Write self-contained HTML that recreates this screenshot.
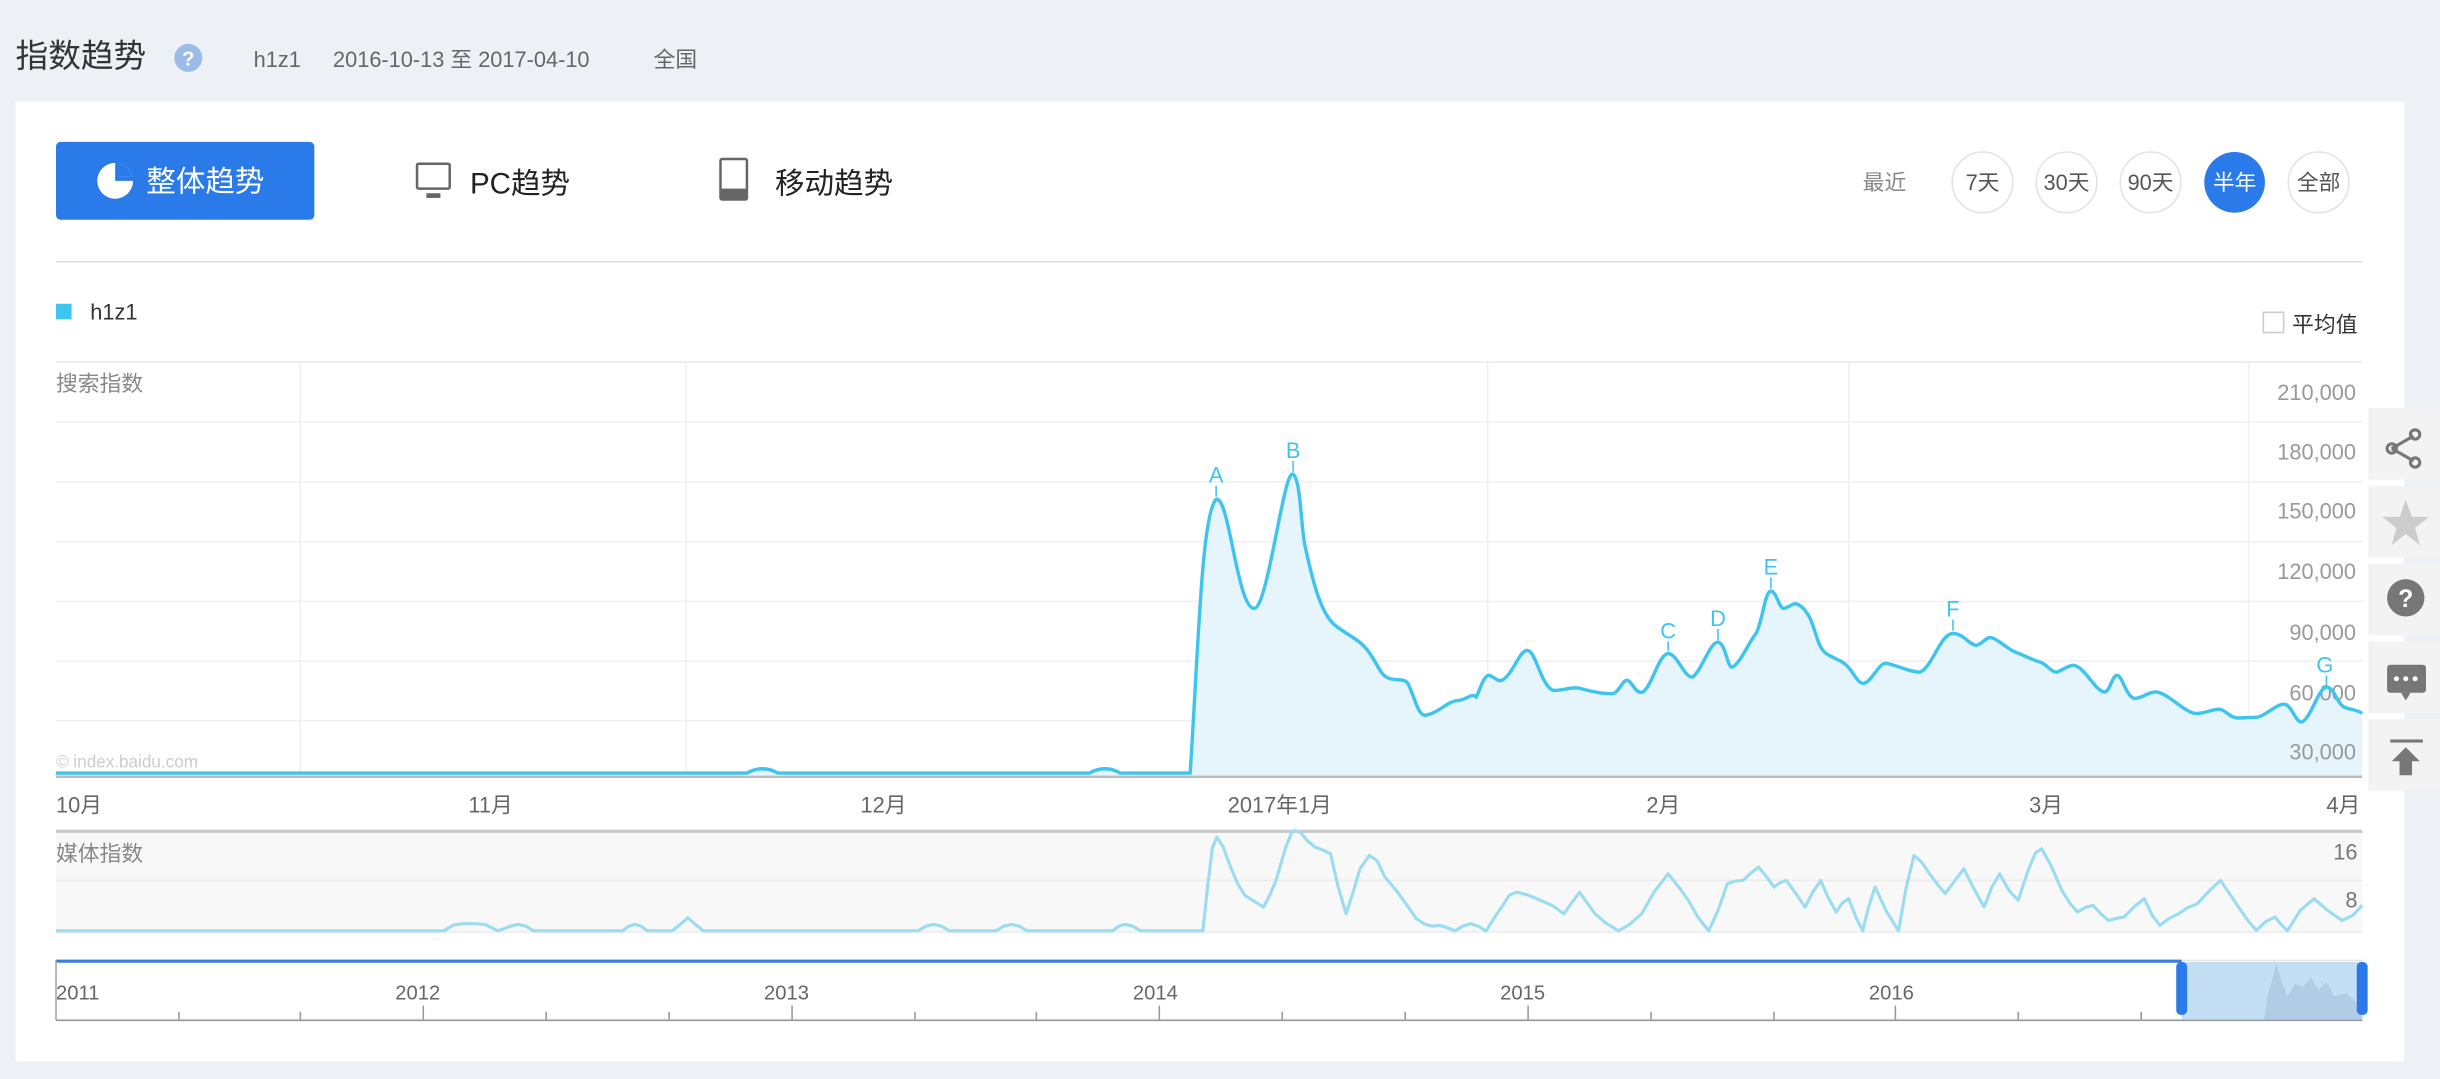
<!DOCTYPE html>
<html><head><meta charset="utf-8"><style>html,body{margin:0;padding:0;background:#edf1f5;}svg{display:block}text{font-family:"Liberation Sans","Noto Sans CJK SC",sans-serif;}</style></head>
<body>
<svg width="2440" height="1079" viewBox="0 0 1568 693" xmlns="http://www.w3.org/2000/svg">
<defs>
<path id="d" d="M36 496.6 L480 496.6 Q490 491 500 496.6 L700 496.6 Q710 491 720 496.6 L764.8 496.6 C770 420 772 330 781.5 320.7 C790 318 795 391 806 390.8 C815 390 825 300 831 304.6 C836 308 836 340 838.8 351.3 C845 380 850 395 858 401.7 C866 408 872 410 877 415.6 C884 423 886 432 890.8 434.9 C896 438 902 435 904.8 439 C910 450 911 459 915.8 459.5 C925 458 930 450 937.6 449.9 C943 449 946 445 948.6 447.7 C951 444 953 434 956.9 433.8 C961 435 962 438 965 437 C972 434 976 418 981.5 417.7 C987 418 990 440 998 443.4 C1004 444 1008 441 1014.8 442 C1022 444 1030 446 1036.8 445.5 C1041 444 1043 436 1045.9 437 C1049 438 1051 446 1055.8 444.5 C1062 440 1066 420 1072 419.8 C1078 420 1082 435 1087.5 434.9 C1093 432 1099 412 1104 412.4 C1109 413 1110 429 1113 428.5 C1118 427 1124 412 1128.5 406.9 C1133 398 1134 380 1138 379.6 C1142 380 1143 391 1146.5 390.8 C1150 390 1152 387 1154.9 388 C1159 390 1160 392 1162.8 396.3 C1167 405 1168 416 1173.6 419.8 C1180 424 1184 424 1187.6 428.4 C1191 432 1194 439 1197.4 439 C1203 438 1207 426 1212 426 C1218 427 1228 432 1234 431.7 C1242 428 1247 407 1255 406.9 C1262 407 1265 414 1270 414.5 C1274 414 1276 409 1279.5 409.5 C1285 411 1290 417 1295 418.8 C1301 421 1306 424 1311 425.2 C1316 427 1318 432 1322 431.7 C1326 430 1330 427 1333 427.4 C1340 429 1346 443 1352 444.5 C1356 445 1357 434 1360.5 433.8 C1364 434 1366 447 1371.5 448.6 C1376 449 1381 444 1386 444.5 C1394 446 1402 456 1410 458.2 C1416 459 1422 455 1426.7 455.7 C1430 456 1433 461 1437.7 461.2 C1442 461 1446 461 1451 460.6 C1457 459 1463 452 1468 452.4 C1473 453 1475 464 1479 463.8 C1485 462 1490 441 1495.5 441.3 C1500 442 1502 452 1506.4 454.2 C1511 456 1515 456 1518 458.2"/>
</defs>
<rect x="0" y="0" width="1568" height="693" fill="#edf1f5"/>
<text x="10" y="43" font-size="21" fill="#333">指数趋势</text>
<circle cx="121" cy="37" r="9" fill="#9dbbe8"/>
<text x="121" y="42" font-size="13" fill="#fff" text-anchor="middle" font-weight="bold">?</text>
<text x="163" y="43" font-size="14" fill="#666">h1z1</text>
<text x="214" y="43" font-size="14" fill="#666">2016-10-13 至 2017-04-10</text>
<text x="420" y="43" font-size="14" fill="#666">全国</text>
<rect x="10" y="65" width="1535" height="617" fill="#fff"/>
<rect x="36" y="91" width="166" height="50" rx="3" fill="#2a7ae9"/>
<circle cx="74" cy="116" r="11.5" fill="#fff"/>
<path d="M76.5 113.5 L76.5 104.8 A11.5 11.5 0 0 1 85.2 113.5 Z" fill="#2a7ae9"/>
<path d="M74 116 L74 104 L76.5 104 L76.5 113.5 L86 113.5 L86 116 Z" fill="#2a7ae9"/>
<text x="94" y="123" font-size="19" fill="#fff">整体趋势</text>
<rect x="268" y="105" width="21" height="16" rx="1" fill="none" stroke="#666" stroke-width="1.6"/>
<rect x="274" y="124" width="9" height="3" fill="#666"/>
<text x="302" y="124" font-size="19" fill="#222">PC趋势</text>
<rect x="463" y="102" width="17" height="26" rx="1" fill="none" stroke="#666" stroke-width="1.6"/>
<rect x="463" y="121" width="17" height="7" fill="#666"/>
<text x="498" y="124" font-size="19" fill="#222">移动趋势</text>
<text x="1197" y="122" font-size="14" fill="#888">最近</text>
<g font-size="14" text-anchor="middle">
<circle cx="1274" cy="117" r="19.5" fill="#fff" stroke="#e3e3e3"/><text x="1274" y="122" fill="#555">7天</text>
<circle cx="1328" cy="117" r="19.5" fill="#fff" stroke="#e3e3e3"/><text x="1328" y="122" fill="#555">30天</text>
<circle cx="1382" cy="117" r="19.5" fill="#fff" stroke="#e3e3e3"/><text x="1382" y="122" fill="#555">90天</text>
<circle cx="1436" cy="117" r="19.5" fill="#2a7ae9"/><text x="1436" y="122" fill="#fff">半年</text>
<circle cx="1490" cy="117" r="19.5" fill="#fff" stroke="#e3e3e3"/><text x="1490" y="122" fill="#555">全部</text>
</g>
<line x1="36" y1="168" x2="1518" y2="168" stroke="#ddd" stroke-width="1"/>
<rect x="36" y="195" width="10" height="10" fill="#3ec5f0"/>
<text x="58" y="205" font-size="14" fill="#333">h1z1</text>
<rect x="1454.5" y="200.5" width="13" height="13" fill="#fff" stroke="#ccc"/>
<text x="1473" y="213" font-size="14" fill="#333">平均值</text>
<g stroke="#f0f0f0" stroke-width="1">
<line x1="36" y1="232.5" x2="1518" y2="232.5" stroke="#e8e8e8"/>
<line x1="36" y1="271" x2="1518" y2="271"/>
<line x1="36" y1="309.5" x2="1518" y2="309.5"/>
<line x1="36" y1="348" x2="1518" y2="348"/>
<line x1="36" y1="386.3" x2="1518" y2="386.3"/>
<line x1="36" y1="424.7" x2="1518" y2="424.7"/>
<line x1="36" y1="463" x2="1518" y2="463"/>
<line x1="193" y1="233" x2="193" y2="499"/>
<line x1="441" y1="233" x2="441" y2="499"/>
<line x1="956" y1="233" x2="956" y2="499"/>
<line x1="1188" y1="233" x2="1188" y2="499"/>
<line x1="1445" y1="233" x2="1445" y2="499"/>
</g>
<text x="36" y="251" font-size="14" fill="#888">搜索指数</text>
<path d="M36 496.6 L480 496.6 Q490 491 500 496.6 L700 496.6 Q710 491 720 496.6 L764.8 496.6 C770 420 772 330 781.5 320.7 C790 318 795 391 806 390.8 C815 390 825 300 831 304.6 C836 308 836 340 838.8 351.3 C845 380 850 395 858 401.7 C866 408 872 410 877 415.6 C884 423 886 432 890.8 434.9 C896 438 902 435 904.8 439 C910 450 911 459 915.8 459.5 C925 458 930 450 937.6 449.9 C943 449 946 445 948.6 447.7 C951 444 953 434 956.9 433.8 C961 435 962 438 965 437 C972 434 976 418 981.5 417.7 C987 418 990 440 998 443.4 C1004 444 1008 441 1014.8 442 C1022 444 1030 446 1036.8 445.5 C1041 444 1043 436 1045.9 437 C1049 438 1051 446 1055.8 444.5 C1062 440 1066 420 1072 419.8 C1078 420 1082 435 1087.5 434.9 C1093 432 1099 412 1104 412.4 C1109 413 1110 429 1113 428.5 C1118 427 1124 412 1128.5 406.9 C1133 398 1134 380 1138 379.6 C1142 380 1143 391 1146.5 390.8 C1150 390 1152 387 1154.9 388 C1159 390 1160 392 1162.8 396.3 C1167 405 1168 416 1173.6 419.8 C1180 424 1184 424 1187.6 428.4 C1191 432 1194 439 1197.4 439 C1203 438 1207 426 1212 426 C1218 427 1228 432 1234 431.7 C1242 428 1247 407 1255 406.9 C1262 407 1265 414 1270 414.5 C1274 414 1276 409 1279.5 409.5 C1285 411 1290 417 1295 418.8 C1301 421 1306 424 1311 425.2 C1316 427 1318 432 1322 431.7 C1326 430 1330 427 1333 427.4 C1340 429 1346 443 1352 444.5 C1356 445 1357 434 1360.5 433.8 C1364 434 1366 447 1371.5 448.6 C1376 449 1381 444 1386 444.5 C1394 446 1402 456 1410 458.2 C1416 459 1422 455 1426.7 455.7 C1430 456 1433 461 1437.7 461.2 C1442 461 1446 461 1451 460.6 C1457 459 1463 452 1468 452.4 C1473 453 1475 464 1479 463.8 C1485 462 1490 441 1495.5 441.3 C1500 442 1502 452 1506.4 454.2 C1511 456 1515 456 1518 458.2 L1518 499 L36 499 Z" fill="#e6f5fc"/>
<g font-size="14" fill="#999" text-anchor="end">
<text x="1514" y="257">210,000</text><text x="1514" y="295">180,000</text><text x="1514" y="333">150,000</text><text x="1514" y="372">120,000</text><text x="1514" y="411">90,000</text><text x="1514" y="450">60,000</text><text x="1514" y="488">30,000</text>
</g>
<use href="#d" fill="none" stroke="#3ec4ee" stroke-width="2.2"/>
<text x="36" y="493" font-size="11" fill="#ccc">© index.baidu.com</text>
<g font-size="14" fill="#3ec4ee" text-anchor="middle" stroke="#3ec4ee" stroke-width="0">
<text x="781.5" y="310">A</text><line x1="781.5" y1="312" x2="781.5" y2="319" stroke-width="1"/>
<text x="831" y="294">B</text><line x1="831" y1="296" x2="831" y2="303" stroke-width="1"/>
<text x="1072" y="410">C</text><line x1="1072" y1="412" x2="1072" y2="418" stroke-width="1"/>
<text x="1104" y="402">D</text><line x1="1104" y1="404" x2="1104" y2="411" stroke-width="1"/>
<text x="1138" y="369">E</text><line x1="1138" y1="371" x2="1138" y2="378" stroke-width="1"/>
<text x="1255" y="396">F</text><line x1="1255" y1="398" x2="1255" y2="405" stroke-width="1"/>
<text x="1494" y="432">G</text><line x1="1495" y1="434" x2="1495" y2="440" stroke-width="1"/>
</g>
<line x1="36" y1="499" x2="1518" y2="499" stroke="#bbb" stroke-width="1.5"/>
<g font-size="14" fill="#666">
<text x="36" y="522">10月</text><text x="301" y="522">11月</text><text x="553" y="522">12月</text><text x="789" y="522">2017年1月</text><text x="1058" y="522">2月</text><text x="1304" y="522">3月</text><text x="1495" y="522">4月</text>
</g>
<rect x="36" y="534" width="1482" height="66" fill="#f8f8f8"/>
<line x1="36" y1="565.5" x2="1518" y2="565.5" stroke="#ececec"/>
<line x1="36" y1="598.5" x2="1518" y2="598.5" stroke="#ececec"/>
<line x1="36" y1="534" x2="1518" y2="534" stroke="#c8c8c8" stroke-width="2"/>
<text x="36" y="553" font-size="14" fill="#888">媒体指数</text>
<text x="1515" y="552" font-size="14" fill="#777" text-anchor="end">16</text>
<text x="1515" y="583" font-size="14" fill="#777" text-anchor="end">8</text>
<polyline fill="none" stroke="#9adcf0" stroke-width="2" stroke-linejoin="round" points="36,598 285,598 292,594 298,593.4 306,593.4 312,594 320,598 328,595 333,593.8 338,595 343,598 400,598 404,595 408,593.8 412,595 416,598 432,598 437,594 442,589.6 447,594 452,598 590,598 595,595 600,593.8 605,595 610,598 640,598 645,595 650,593.8 655,595 660,598 715,598 719,595 723,593.8 728,595 733,598 773,598 776,570 779,545 782,537.7 786,544 790,554.9 795,567 800,575.2 806,579 812,582.7 816,575 820,565.6 826,545 830,535 832,533.4 836,535 840,540 845,544.1 850,546 855,548.4 860,570 865,587 869,575 874,558 880,549.5 885,553 890,563.4 898,573 905,582.7 910,590 915,593.4 920,595 925,594.5 930,596 935,598 940,595 945,593.4 950,595 955,598 960,590 965,582.7 970,575 975,573.1 982,575 990,578.4 998,582 1005,587 1010,580 1015,573.1 1020,580 1025,587 1032,593 1040,598 1047,594 1055,587 1063,573 1072,561.3 1079,570 1085,578.4 1091,589 1098,598 1104,585 1110,567.7 1115,566 1120,565.6 1125,561 1130,557 1135,563 1140,569.8 1144,567 1148,565.6 1154,574 1160,582.7 1165,573 1170,565.6 1175,577 1180,585.9 1184,580 1188,577.3 1193,590 1197,598 1201,582 1205,569.8 1212,585 1220,598 1225,570 1230,549.5 1235,554 1240,561.3 1245,568 1250,574.1 1256,566 1262,558.1 1268,570 1275,582.7 1280,570 1285,561.3 1291,572 1297,578.4 1303,560 1308,548 1312,545.2 1318,556 1325,572 1330,580 1335,585.9 1340,583 1345,581.6 1350,587 1355,591.3 1360,590 1365,589.1 1372,582 1378,577.3 1383,588 1388,594.5 1394,590 1400,587 1406,583 1412,580.6 1420,572 1427,565.6 1434,576 1440,584.8 1445,592 1450,597.7 1456,592 1462,589.1 1466,594 1470,598 1478,585 1487,577.3 1496,585 1505,591.3 1512,588 1518,581.6"/>
<rect x="36" y="617" width="1482" height="38" fill="#fff" stroke="#e5e5e5"/>
<line x1="36" y1="617.5" x2="1402" y2="617.5" stroke="#3b7fd9" stroke-width="2"/>
<line x1="36" y1="617" x2="36" y2="655.5" stroke="#aaa"/>
<rect x="1402" y="618" width="116" height="37" fill="#c4def4"/>
<path d="M1455 655 L1457 640 L1460 630 L1463 619 L1466 630 L1470 640 L1475 632 L1480 634 L1485 628 L1490 636 L1495 631 L1500 640 L1508 638 L1515 645 L1518 655 Z" fill="#a9c6df" opacity="0.7"/>
<line x1="36" y1="655.5" x2="1518" y2="655.5" stroke="#999" stroke-width="1"/>
<g stroke="#999" stroke-width="1">
<line x1="272" y1="646" x2="272" y2="655"/><line x1="509" y1="646" x2="509" y2="655"/><line x1="745" y1="646" x2="745" y2="655"/><line x1="982" y1="646" x2="982" y2="655"/><line x1="1218" y1="646" x2="1218" y2="655"/>
<line x1="115" y1="650" x2="115" y2="655"/><line x1="193" y1="650" x2="193" y2="655"/><line x1="351" y1="650" x2="351" y2="655"/><line x1="430" y1="650" x2="430" y2="655"/><line x1="588" y1="650" x2="588" y2="655"/><line x1="666" y1="650" x2="666" y2="655"/><line x1="824" y1="650" x2="824" y2="655"/><line x1="903" y1="650" x2="903" y2="655"/><line x1="1061" y1="650" x2="1061" y2="655"/><line x1="1140" y1="650" x2="1140" y2="655"/><line x1="1297" y1="650" x2="1297" y2="655"/><line x1="1376" y1="650" x2="1376" y2="655"/>
</g>
<g font-size="13" fill="#666">
<text x="36" y="642">2011</text><text x="254" y="642">2012</text><text x="491" y="642">2013</text><text x="728" y="642">2014</text><text x="964" y="642">2015</text><text x="1201" y="642">2016</text>
</g>
<rect x="1398.5" y="618" width="7" height="34" rx="3" fill="#2a7ae9"/>
<rect x="1514.5" y="618" width="7" height="34" rx="3" fill="#2a7ae9"/>
<rect x="1522" y="262" width="46" height="46" fill="#f3f3f3"/>
<rect x="1522" y="312" width="46" height="46" fill="#f3f3f3"/>
<rect x="1522" y="362" width="46" height="46" fill="#f3f3f3"/>
<rect x="1522" y="412" width="46" height="46" fill="#f3f3f3"/>
<rect x="1522" y="462" width="46" height="46" fill="#f3f3f3"/>
<g stroke="#777" stroke-width="2" fill="none">
<line x1="1537" y1="288" x2="1551" y2="280"/><line x1="1537" y1="288" x2="1551" y2="296"/>
<circle cx="1537" cy="288" r="3"/><circle cx="1552" cy="279" r="3"/><circle cx="1552" cy="297" r="3"/>
</g>
<path d="M1546 321 L1550 332 L1561 332 L1552 339 L1555 350 L1546 343 L1537 350 L1540 339 L1531 332 L1542 332 Z" fill="#ccc"/>
<circle cx="1546" cy="384" r="12" fill="#777"/>
<text x="1546" y="390" font-size="16" font-weight="bold" fill="#fff" text-anchor="middle">?</text>
<rect x="1534" y="427" width="25" height="18" rx="2" fill="#777"/>
<path d="M1543 445 L1546 450 L1549 445 Z" fill="#777"/>
<circle cx="1540" cy="436" r="1.6" fill="#fff"/><circle cx="1546" cy="436" r="1.6" fill="#fff"/><circle cx="1552" cy="436" r="1.6" fill="#fff"/>
<rect x="1536" y="475" width="21" height="2" fill="#777"/>
<path d="M1546 480 L1555 489 L1550 489 L1550 498 L1542 498 L1542 489 L1537 489 Z" fill="#777"/>
</svg>
</body></html>
